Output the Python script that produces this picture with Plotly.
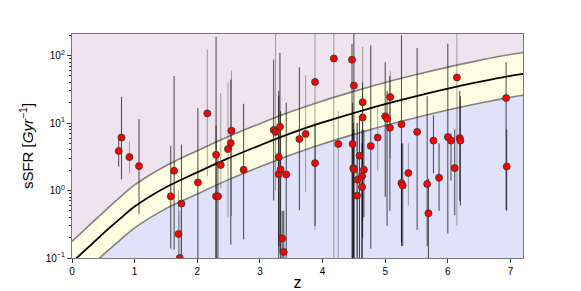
import plotly.graph_objects as go

# ---- model curve ----
curve_z = [0, 0.25, 0.5, 0.75, 1, 1.5, 2, 2.5, 3, 3.5, 4, 4.5, 5, 5.5, 6, 6.5, 7, 7.2]
curve_mid = [0.087, 0.141, 0.232, 0.37, 0.58, 1.12, 1.86, 3.02, 4.68, 7.08, 10.2, 14.1, 19.1, 25.1, 32.4, 40.7, 50.1, 53.7]
curve_hi = [0.176, 0.29, 0.475, 0.77, 1.21, 2.33, 3.9, 6.3, 9.8, 14.8, 21.3, 29.5, 40.0, 52.5, 67.5, 85.0, 104.0, 110.0]
curve_lo = [0.042, 0.068, 0.112, 0.178, 0.28, 0.54, 0.89, 1.45, 2.25, 3.4, 4.9, 6.8, 9.2, 12.1, 15.6, 19.6, 24.1, 25.8]

# ---- data points ----
z = [0.746, 0.79, 0.917, 1.07, 1.577, 1.63, 1.70, 1.72, 1.747, 2.01, 2.16, 2.30, 2.30, 2.33, 2.375,
     2.49, 2.535, 2.546, 2.74, 3.22, 3.25, 3.30, 3.30, 3.32, 3.33, 3.355, 3.38, 3.42, 3.63, 3.73,
     3.88, 3.88, 4.18, 4.25, 4.47, 4.50, 4.48, 4.49, 4.50, 4.55, 4.56, 4.59, 4.63, 4.63, 4.64,
     4.64, 4.66, 4.77, 4.88, 5.0, 5.03, 5.075, 5.08, 5.26, 5.26, 5.28, 5.37, 5.51, 5.67, 5.69,
     5.77, 5.86, 6.0, 6.05, 6.11, 6.145, 6.19, 6.20, 6.93, 6.94]
ssfr = [3.85, 6.1, 3.13, 2.3, 0.82, 1.96, 0.227, 0.10, 0.64, 1.32, 13.9, 3.39, 0.82, 0.82, 2.39,
        4.12, 5.06, 7.7, 2.03, 7.9, 7.4, 3.13, 1.75, 8.8, 2.05, 0.195, 0.123, 1.73, 5.8, 6.9,
        40.7, 2.55, 90.6, 4.9, 87.0, 36.0, 4.9, 2.15, 2.05, 0.84, 1.45, 3.28, 1.64, 1.13, 20.4,
        12.1, 2.03, 4.57, 6.1, 12.6, 11.6, 8.5, 24.3, 9.6, 1.29, 1.19, 1.82, 7.4, 1.25, 0.46,
        5.5, 1.55, 6.2, 5.5, 2.15, 47.4, 6.0, 5.5, 23.5, 2.27]
err_lo = [2.27, 1.45, 1.78, 0.45, 0.138, 0.133, 0.05, 0.05, 0.05, 0.05, 1.62, 0.05, 0.05, 0.05, 1.1,
          0.4, 0.158, 0.42, 0.19, 0.71, 1.0, 0.15, 0.05, 0.116, 0.08, 0.07, 0.07, 0.05, 0.51, 0.95,
          0.26, 0.3, 0.05, 0.05, 0.05, 0.05, 0.05, 0.05, 0.05, 0.05, 0.05, 0.05, 0.05, 0.1, 0.36,
          0.2, 0.4, 0.137, 2.0, 0.8, 0.3, 0.5, 3.0, 0.17, 0.15, 0.15, 0.6, 0.26, 0.15, 0.05,
          1.8, 0.5, 0.23, 1.4, 0.43, 0.3, 0.7, 0.6, 0.52, 0.5]
err_hi = [6.0, 24.5, 5.3, 11.5, 4.6, 50.0, 1.0, 0.5, 4.8, 16.6, 123.0, 190.0, 9.3, 3.0, 28.0,
          40.0, 44.0, 60.0, 19.3, 87.0, 300.0, 30.0, 25.0, 110.0, 15.0, 0.5, 0.5, 20.0, 67.0, 51.0,
          300.0, 10.0, 300.0, 15.0, 150.0, 300.0, 20.0, 10.0, 8.0, 10.0, 10.0, 12.0, 8.0, 5.0, 135.0,
          40.0, 8.0, 141.0, 17.5, 80.0, 30.0, 50.0, 60.0, 200.0, 5.0, 5.0, 5.0, 130.0, 25.0, 1.5,
          13.0, 5.0, 150.0, 7.0, 8.0, 250.0, 30.0, 25.0, 80.0, 8.0]
light = [0, 0, 1, 0, 0, 0, 1, 1, 0, 0, 1, 0, 0, 0, 1,
         1, 0, 1, 0, 0, 1, 0, 0, 0, 0, 0, 0, 0, 0, 1,
         1, 0, 1, 1, 0, 0, 0, 0, 0, 0, 1, 0, 0, 0, 1,
         0, 0, 0, 1, 0, 0, 0, 1, 0, 0, 0, 1, 0, 0, 0,
         0, 0, 0, 0, 0, 1, 0, 0, 0, 0]

x_ticks = [0, 1, 2, 3, 4, 5, 6, 7]
y_tickvals = [0.1, 1, 10, 100]
y_ticktext = ["10<sup>−1</sup>", "10<sup>0</sup>", "10<sup>1</sup>", "10<sup>2</sup>"]

PINK = "#efe3ef"
LAV = "#e1e1fa"
YEL = "#fefee2"

fig = go.Figure()
bottom = [1e-3] * len(curve_z)
top = [1e4] * len(curve_z)
fig.add_trace(go.Scatter(x=curve_z, y=bottom, mode="lines", line=dict(width=0), showlegend=False, hoverinfo="skip"))
fig.add_trace(go.Scatter(x=curve_z, y=curve_lo, mode="lines", line=dict(width=0, shape="spline"), fill="tonexty",
                         fillcolor=LAV, showlegend=False, hoverinfo="skip"))
fig.add_trace(go.Scatter(x=curve_z, y=curve_hi, mode="lines", line=dict(width=0, shape="spline"), fill="tonexty",
                         fillcolor=YEL, showlegend=False, hoverinfo="skip"))
fig.add_trace(go.Scatter(x=curve_z, y=top, mode="lines", line=dict(width=0), fill="tonexty",
                         fillcolor=PINK, showlegend=False, hoverinfo="skip"))
for arr in (curve_lo, curve_hi):
    fig.add_trace(go.Scatter(x=curve_z, y=arr, mode="lines", line=dict(color="rgba(110,110,110,0.85)", width=1.6, shape="spline"),
                             showlegend=False, hoverinfo="skip"))
fig.add_trace(go.Scatter(x=curve_z, y=curve_mid, mode="lines", line=dict(color="black", width=1.8, shape="spline"),
                         showlegend=False, hoverinfo="skip"))

# error bars as vertical segments
for flag, col in ((1, "rgba(60,60,60,0.45)"), (0, "rgba(0,0,0,0.7)")):
    xs, ys = [], []
    for zi, lo, hi, f in zip(z, err_lo, err_hi, light):
        if f == flag:
            xs += [zi, zi, None]
            ys += [lo, hi, None]
    fig.add_trace(go.Scatter(x=xs, y=ys, mode="lines", line=dict(color=col, width=1), showlegend=False, hoverinfo="skip"))

fig.add_trace(go.Scatter(x=z, y=ssfr, mode="markers",
                         marker=dict(color="#ff0000", size=7, line=dict(color="#333333", width=0.8)),
                         showlegend=False))

fig.update_layout(
    width=573, height=283,
    margin=dict(l=64, r=58, t=26, b=33),
    paper_bgcolor="white", plot_bgcolor=PINK,
    font=dict(family="Liberation Sans, Arial, sans-serif", color="black"),
)
fig.update_xaxes(range=[0, 7.2], tickvals=x_ticks, ticks="outside", ticklen=4, tickcolor="#333",
                 showgrid=False, zeroline=False, showline=True, linecolor="#777", linewidth=1.3, mirror=True,
                 tickfont=dict(size=10), automargin=False,
                 title=dict(text="z", font=dict(size=16), standoff=7))
minor_vals = [m * d for d in (0.1, 1, 10, 100) for m in range(2, 10)]
fig.update_yaxes(type="log", range=[-1, 2.32], tickvals=y_tickvals, ticktext=y_ticktext, ticks="outside", ticklen=4,
                 tickcolor="#333", showgrid=False, zeroline=False, showline=True, linecolor="#777", linewidth=1.3,
                 mirror=True, tickfont=dict(size=10), automargin=False,
                 minor=dict(tickvals=minor_vals, ticks="outside", ticklen=2, tickcolor="#333", showgrid=False),
                 title=dict(text="sSFR [<i>Gyr</i><sup>−1</sup>]", font=dict(size=15), standoff=8))

fig.write_html("out.html")
